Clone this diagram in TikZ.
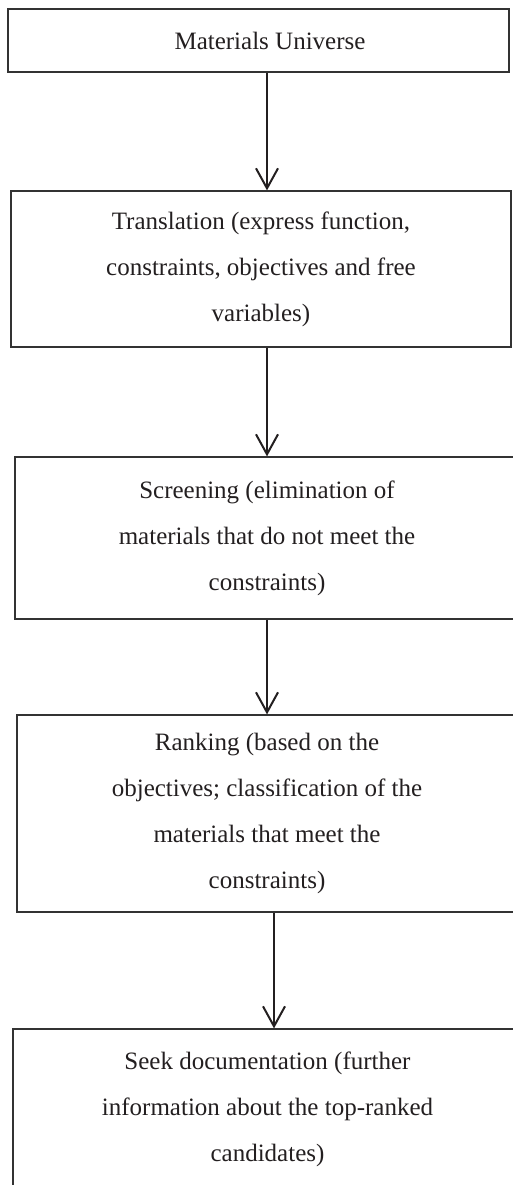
\documentclass[tikz,border=0pt]{standalone}
\usepackage{fontspec}
\setmainfont{Liberation Serif}
\usetikzlibrary{arrows.meta}
\definecolor{ink}{HTML}{231F20}
\tikzset{
  stage/.style={draw=black!80, line width=1.2pt, rectangle, align=center, inner sep=0pt,
    text=ink, font=\fontsize{25}{46}\selectfont},
  flow/.style={line width=2pt, draw=ink, -{Straight Barb[length=20pt,width=22pt]}}
}
\begin{document}
\begin{tikzpicture}[x=1pt, y=-1pt]
\useasboundingbox (0,0) rectangle (512,1185);
\node[stage, minimum width=501pt, minimum height=63pt] (universe) at (258.5,40.5) {\hspace*{23pt}Materials Universe};
\node[stage, minimum width=500pt, minimum height=156pt] (translation) at (261,269)
  {Translation (express function,\\ constraints, objectives and free\\ variables)};
\node[stage, minimum width=504pt, minimum height=162pt] (screening) at (267,538)
  {Screening (elimination of\\ materials that do not meet the\\ constraints)};
\node[stage, minimum width=500pt, minimum height=197pt] (ranking) at (267,813.5)
  {Ranking (based on the\\ objectives; classification of the\\ materials that meet the\\ constraints)};
\node[stage, minimum width=509pt, minimum height=160pt] (documentation) at (267.5,1109)
  {Seek documentation (further\\ information about the top-ranked\\ candidates)};
\draw[flow] (universe.south -| screening.center) -- (translation.north -| screening.center);
\draw[flow] (translation.south -| screening.center) -- (screening.north);
\draw[flow] (screening.south) -- (ranking.north);
\draw[flow] ([xshift=7pt]ranking.south) -- ([xshift=7pt]ranking.south |- documentation.north);
\end{tikzpicture}
\end{document}
